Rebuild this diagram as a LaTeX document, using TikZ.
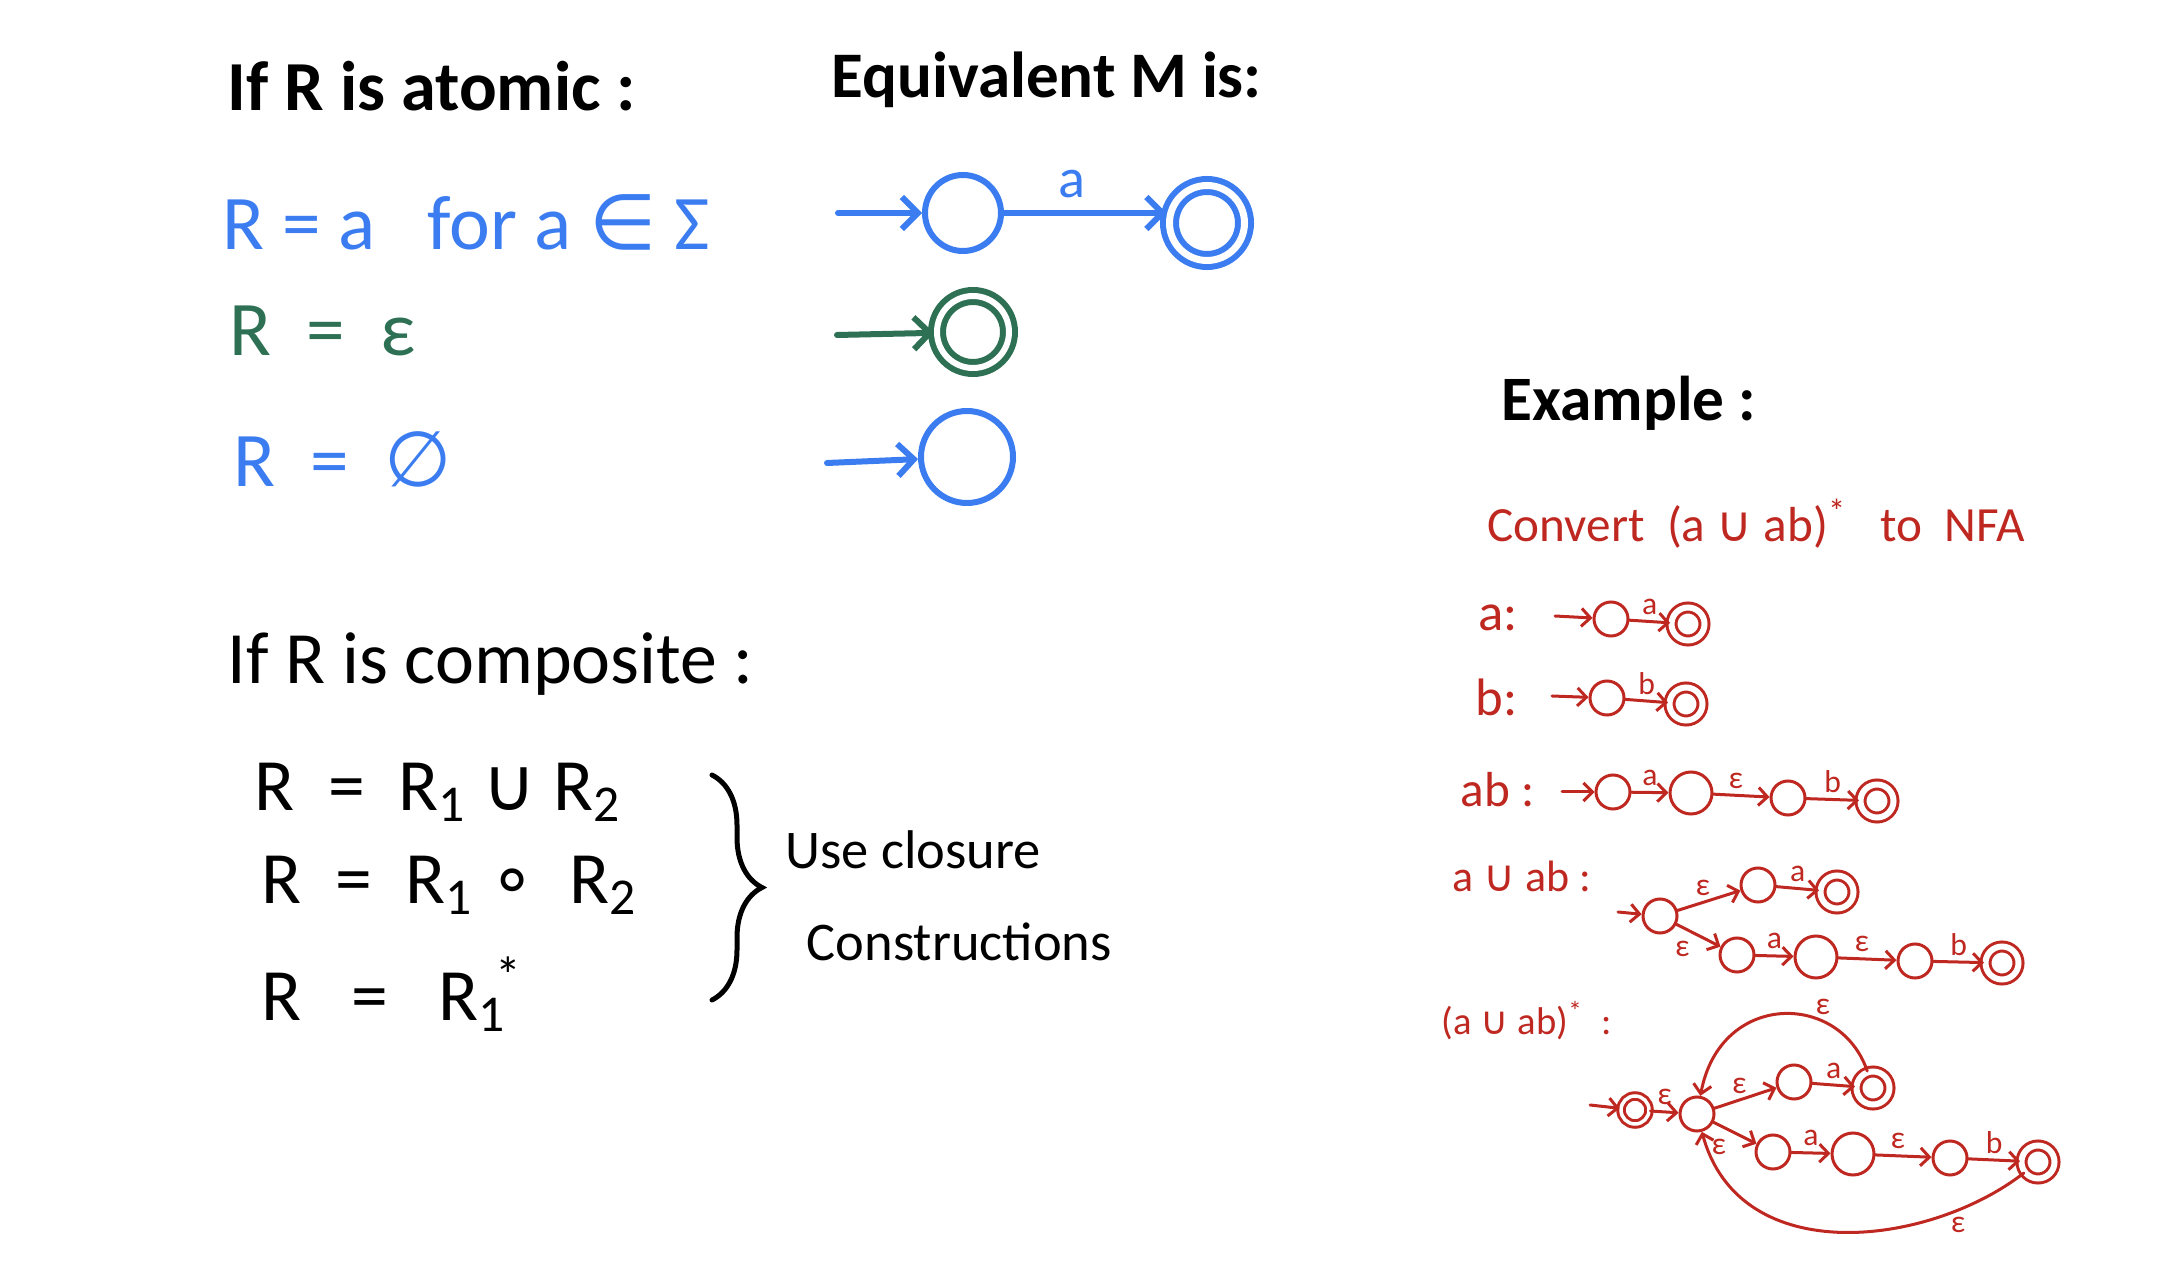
\documentclass[tikz,border=0pt]{standalone}
\usepackage{fontspec}
\setmainfont{Carlito}
\newfontfamily\djv{DejaVu Sans}
\usetikzlibrary{arrows.meta, decorations.pathreplacing}
\definecolor{regblue}{RGB}{59,125,241}
\definecolor{epsgreen}{RGB}{46,112,84}
\definecolor{nfared}{RGB}{190,40,32}

\begin{document}
\begin{tikzpicture}[
    line cap=round,
    hdr/.style={anchor=west, inner sep=0pt, font=\fontsize{20}{24}\selectfont\bfseries},
    txt/.style={anchor=west, inner sep=0pt, font=\fontsize{22}{26}\selectfont},
    rtxt/.style={anchor=west, inner sep=0pt, nfared, font=\fontsize{14}{17}\selectfont},
    lbl/.style={nfared, inner sep=1.5pt, font=\fontsize{9}{10}\selectfont},
    bst/.style={circle, draw=regblue, line width=0.06cm, inner sep=0pt, minimum size=0.76cm},
    bacc/.style={bst, double, double distance=0.07cm, minimum size=0.75cm},
    gacc/.style={bst, draw=epsgreen, double, double distance=0.06cm, minimum size=0.72cm},
    barr/.style={regblue, line width=0.06cm, -{Straight Barb[length=1.6mm,width=3.2mm]}},
    garr/.style={barr, epsgreen},
    rst/.style={circle, draw=nfared, line width=0.03cm, inner sep=0pt, minimum size=0.34cm},
    rbig/.style={rst, minimum size=0.42cm},
    racc/.style={rst, double, double distance=0.06cm, minimum size=0.33cm},
    rarr/.style={nfared, line width=0.03cm, -{Straight Barb[length=0.9mm,width=1.8mm]}}]
  \useasboundingbox (0,0) rectangle (21.79,12.81);

  % Atomic case
  \node[hdr] (atomic) at (2.27,11.95) {If R is atomic :};
  \node[hdr, font=\fontsize{18.5}{22}\selectfont\bfseries] (equiv) at (8.31,12.01) {Equivalent M is:};
  \node[txt, regblue] (ra) at (2.22,10.59) {R = a \ \ for a {\djv ∈} Σ};
  \node[txt, epsgreen] (reps) at (2.29,9.50) {R \ = \ ε};
  \node[txt, regblue] (rempty) at (2.33,8.22) {R \ = \ {\djv ∅}};

  % Equivalent machines
  \coordinate (ina) at (8.38,10.68);
  \node[bst] (qa) at (9.63,10.68) {};
  \node[bacc] (fa) at (12.07,10.58) {};
  \draw[barr] (ina) -- (qa);
  \draw[barr] (qa) -- node[pos=0.42, above, regblue, font=\fontsize{16}{18}\selectfont] {a} (qa -| fa.west);

  \coordinate (ineps) at (8.37,9.46);
  \node[gacc] (feps) at (9.73,9.49) {};
  \draw[garr] (ineps) -- (feps);

  \coordinate (inempty) at (8.27,8.18);
  \node[bst, minimum size=0.92cm] (qempty) at (9.67,8.24) {};
  \draw[barr] (inempty) -- (qempty);

  % Composite case
  \node[hdr, font=\fontsize{21}{25}\selectfont] (comp) at (2.27,6.17) {If R is composite :};
  \node[txt, font=\fontsize{21}{25}\selectfont] (union) at (2.54,4.89) {R \ = \ R\textsubscript{1} {\djv ∪} R\textsubscript{2}};
  \node[txt, font=\fontsize{21}{25}\selectfont] (concat) at (2.61,3.96) {R \ = \ R\textsubscript{1} {\djv ∘} \ R\textsubscript{2}};
  \node[txt, font=\fontsize{21}{25}\selectfont] (star) at (2.61,2.87) {R \ \ = \ \ R\textsubscript{1}\kern-0.15em\textsuperscript{*}};
  \coordinate (brtop) at (7.12,5.06);
  \coordinate (brbot) at (7.12,2.81);
  \draw[decorate, decoration={brace, amplitude=0.5cm}, line width=0.05cm] (brtop) -- (brbot);
  \node[txt, font=\fontsize{15.5}{19}\selectfont] (use) at (7.85,4.31) {Use closure};
  \node[txt, font=\fontsize{15.5}{19}\selectfont] (constr) at (8.06,3.39) {Constructions};

  % Example
  \node[hdr, font=\fontsize{18}{22}\selectfont\bfseries] (ex) at (15.01,8.78) {Example :};
  \node[rtxt] (conv) at (14.87,7.57) {Convert \ (a {\djv ∪} ab)\textsuperscript{*} \ \ to \ NFA};

  % a
  \node[rtxt, font=\fontsize{15}{18}\selectfont] (la) at (14.78,6.63) {a:};
  \coordinate (ia) at (15.55,6.65);
  \node[rst] (a0) at (16.11,6.62) {};
  \node[racc] (a1) at (16.88,6.57) {};
  \draw[rarr] (ia) -- (a0);
  \draw[rarr] (a0) -- node[lbl, above] {a} (a1);

  % b
  \node[rtxt, font=\fontsize{15}{18}\selectfont] (lb) at (14.75,5.84) {b:};
  \coordinate (ib) at (15.52,5.85);
  \node[rst] (b0) at (16.07,5.83) {};
  \node[racc] (b1) at (16.86,5.77) {};
  \draw[rarr] (ib) -- (b0);
  \draw[rarr] (b0) -- node[lbl, above] {b} (b1);

  % ab
  \node[rtxt] (lab) at (14.60,4.91) {ab :};
  \coordinate (iab) at (15.62,4.89);
  \node[rst] (ab0) at (16.13,4.89) {};
  \node[rbig] (ab1) at (16.91,4.88) {};
  \node[rst] (ab2) at (17.88,4.83) {};
  \node[racc] (ab3) at (18.77,4.80) {};
  \draw[rarr] (iab) -- (ab0);
  \draw[rarr] (ab0) -- node[lbl, above] {a} (ab1);
  \draw[rarr] (ab1) -- node[lbl, above, pos=0.4] {ε} (ab2);
  \draw[rarr] (ab2) -- node[lbl, above] {b} (ab3);

  % a u ab
  \node[rtxt, font=\fontsize{12.5}{15}\selectfont] (lu) at (14.52,4.05) {a {\djv ∪} ab :};
  \coordinate (iu) at (16.18,3.69);
  \node[rst] (u0) at (16.60,3.65) {};
  \node[rst] (u1) at (17.58,3.96) {};
  \node[racc] (u2) at (18.37,3.89) {};
  \node[rst] (u3) at (17.37,3.26) {};
  \node[rbig] (u4) at (18.16,3.24) {};
  \node[rst] (u5) at (19.15,3.20) {};
  \node[racc] (u6) at (20.02,3.18) {};
  \draw[rarr] (iu) -- (u0);
  \draw[rarr] (u0) -- node[lbl, above, pos=0.4] {ε} (u1);
  \draw[rarr] (u1) -- node[lbl, above] {a} (u2);
  \draw[rarr] (u0) -- node[lbl, below left, pos=0.45] {ε} (u3);
  \draw[rarr] (u3) -- node[lbl, above] {a} (u4);
  \draw[rarr] (u4) -- node[lbl, above, pos=0.4] {ε} (u5);
  \draw[rarr] (u5) -- node[lbl, above] {b} (u6);

  % (a u ab)*
  \node[rtxt, font=\fontsize{11}{13}\selectfont] (ls) at (14.41,2.60) {(a {\djv ∪} ab)\textsuperscript{*} \ :};
  \coordinate (is) at (15.90,1.76);
  \node[racc, minimum size=0.28cm, double distance=0.035cm] (s0) at (16.35,1.71) {};
  \node[rst] (s1) at (16.97,1.67) {};
  \node[rst] (s2) at (17.94,1.99) {};
  \node[racc] (s3) at (18.73,1.93) {};
  \node[rst] (s4) at (17.73,1.29) {};
  \node[rbig] (s5) at (18.53,1.27) {};
  \node[rst] (s6) at (19.50,1.23) {};
  \node[racc] (s7) at (20.38,1.19) {};
  \draw[rarr] (is) -- (s0);
  \draw[rarr] (s0) -- node[lbl, above] {ε} (s1);
  \draw[rarr] (s1) -- node[lbl, above, pos=0.4] {ε} (s2);
  \draw[rarr] (s2) -- node[lbl, above] {a} (s3);
  \draw[rarr] (s1) -- node[lbl, below left, pos=0.45] {ε} (s4);
  \draw[rarr] (s4) -- node[lbl, above] {a} (s5);
  \draw[rarr] (s5) -- node[lbl, above, pos=0.4] {ε} (s6);
  \draw[rarr] (s6) -- node[lbl, above] {b} (s7);
  \draw[rarr] (s3) .. controls (18.4,2.9) and (17.2,2.9) .. (s1) node[lbl, pos=0.3, above] {ε};
  \draw[rarr] (s7) .. controls (19.3,0.35) and (17.4,0.1) .. (s1) node[lbl, pos=0.2, below] {ε};
\end{tikzpicture}
\end{document}
